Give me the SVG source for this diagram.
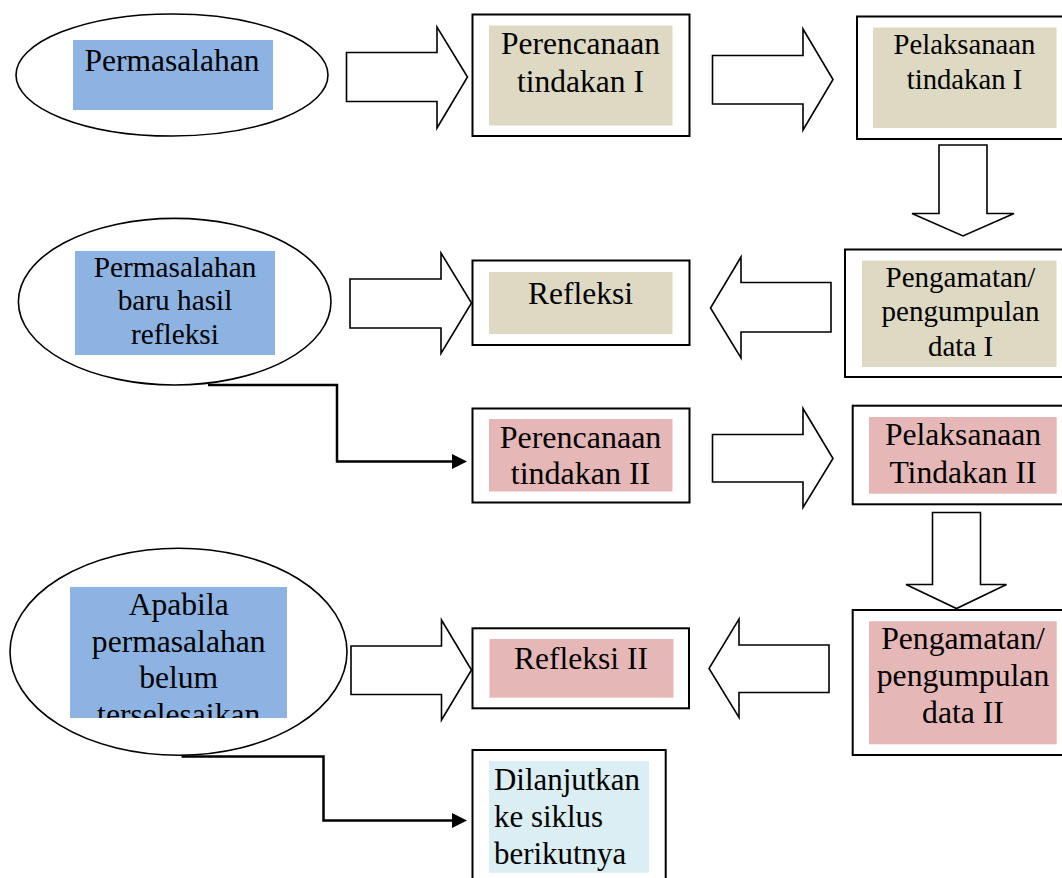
<svg xmlns="http://www.w3.org/2000/svg" width="1062" height="878" viewBox="0 0 1062 878">
<defs>
<style>
.bg{fill:#ffffff}
.box{fill:#ffffff;stroke:#000000;stroke-width:2}
.ell{fill:#ffffff;stroke:#000000;stroke-width:1.6}
.barrow{fill:#ffffff;stroke:#000000;stroke-width:1.6;stroke-linejoin:miter}
.blue{fill:#8DB3E2}
.tan{fill:#DDD9C3}
.pink{fill:#E5B8B7}
.cyan{fill:#DAEEF3}
.t{font-family:"Liberation Serif","Times New Roman",serif;fill:#000000}
.c{text-anchor:middle}
.conn{fill:none;stroke:#000000;stroke-width:2.5}
</style>
<marker id="ah" viewBox="0 0 15 15" refX="0" refY="7.5" markerWidth="15" markerHeight="15" markerUnits="userSpaceOnUse" orient="auto">
<path d="M0,0 L15,7.5 L0,15 z" fill="#000000"/>
</marker>
<clipPath id="clip3"><rect x="70" y="587" width="217" height="131"/></clipPath>
</defs>
<rect class="bg" x="0" y="0" width="1062" height="878"/>

<g id="connectors">
<polygon id="a1" class="barrow" points="346.5,52.5 437,52.5 437,27 467.5,77 437,128 437,101.5 346.5,101.5"/>
<polygon id="a2" class="barrow" points="712.5,55.5 803,55.5 803,29 833,79.5 803,130 803,104 712.5,104"/>
<polygon id="a3" class="barrow" points="939,145 987,145 987,213.5 1014,213.5 963,236 912,213.5 939,213.5"/>
<polygon id="a4" class="barrow" points="831,282.5 741,282.5 741,257 710.5,308 741,358 741,332 831,332"/>
<polygon id="a5" class="barrow" points="350,279 441,279 441,253 471.5,303 441,353.5 441,328 350,328"/>
<polygon id="a6" class="barrow" points="712.5,434.5 803,434.5 803,408.5 833,458.5 803,507.5 803,482 712.5,482"/>
<polygon id="a7" class="barrow" points="932.5,512.5 980.5,512.5 980.5,584.5 1006.5,584.5 956.5,608.5 906,584.5 932.5,584.5"/>
<polygon id="a8" class="barrow" points="829,645 739,645 739,619 709,668.5 739,717.5 739,692.5 829,692.5"/>
<polygon id="a9" class="barrow" points="351,646 441.5,646 441.5,620 471.5,670 441.5,720 441.5,694.5 351,694.5"/>
<path id="c1" class="conn" d="M208,385 H337 V461.5 H452" marker-end="url(#ah)"/>
<path id="c2" class="conn" d="M181.5,756.5 H323.5 V820.5 H452" marker-end="url(#ah)"/>
</g>

<g id="n1">
<ellipse class="ell" cx="172" cy="75" rx="156" ry="61"/>
<rect class="blue" x="73" y="40" width="200" height="70"/>
<text class="t c" x="172" y="71" font-size="31.5">Permasalahan</text>
</g>

<g id="n2">
<rect class="box" x="472.5" y="14.5" width="217" height="121.5"/>
<rect class="tan" x="489" y="25.5" width="183.5" height="100"/>
<text class="t c" x="580.5" y="54" font-size="31.5">Perencanaan</text>
<text class="t c" x="580.5" y="92" font-size="31.5">tindakan I</text>
</g>

<g id="n3">
<rect class="box" x="857" y="16.5" width="215" height="122.5"/>
<rect class="tan" x="873" y="27.5" width="183.5" height="100.5"/>
<text class="t c" x="964.5" y="54" font-size="28.7">Pelaksanaan</text>
<text class="t c" x="964.5" y="89" font-size="28.7">tindakan I</text>
</g>

<g id="n4">
<rect class="box" x="845" y="249.5" width="225" height="127.5"/>
<rect class="tan" x="862" y="260.5" width="194.5" height="106.5"/>
<text class="t c" x="960.5" y="286.5" font-size="29">Pengamatan/</text>
<text class="t c" x="960.5" y="320.5" font-size="29">pengumpulan</text>
<text class="t c" x="960.5" y="356" font-size="29">data I</text>
</g>

<g id="n5">
<rect class="box" x="472.5" y="260.5" width="217" height="84.5"/>
<rect class="tan" x="489" y="272" width="183.5" height="62"/>
<text class="t c" x="580.5" y="303.5" font-size="31.5">Refleksi</text>
</g>

<g id="n6">
<ellipse class="ell" cx="174.7" cy="301.7" rx="156.3" ry="83.3"/>
<rect class="blue" x="75" y="251" width="200" height="104"/>
<text class="t c" x="175" y="276.5" font-size="29.3">Permasalahan</text>
<text class="t c" x="175" y="310" font-size="29.3">baru hasil</text>
<text class="t c" x="175" y="344" font-size="29.3">refleksi</text>
</g>

<g id="n7">
<rect class="box" x="472.5" y="408.5" width="217" height="94"/>
<rect class="pink" x="489" y="419" width="183.5" height="72.5"/>
<text class="t c" x="580.5" y="448.3" font-size="32">Perencanaan</text>
<text class="t c" x="580.5" y="484.3" font-size="32">tindakan II</text>
</g>

<g id="n8">
<rect class="box" x="852.7" y="405.7" width="220" height="98.6"/>
<rect class="pink" x="869" y="417" width="187.7" height="76.7"/>
<text class="t c" x="963" y="445" font-size="31.6">Pelaksanaan</text>
<text class="t c" x="963" y="483.3" font-size="31.6">Tindakan II</text>
</g>

<g id="n9">
<rect class="box" x="852.7" y="610" width="220" height="145"/>
<rect class="pink" x="869" y="621.3" width="187.7" height="123"/>
<text class="t c" x="963" y="649.3" font-size="31.7">Pengamatan/</text>
<text class="t c" x="963" y="686" font-size="31.7">pengumpulan</text>
<text class="t c" x="963" y="723.3" font-size="31.7">data II</text>
</g>

<g id="n10">
<rect class="box" x="472.5" y="628.3" width="216.5" height="80"/>
<rect class="pink" x="489.5" y="639" width="184" height="58.7"/>
<text class="t c" x="581" y="669.3" font-size="31.5">Refleksi II</text>
</g>

<g id="n11">
<ellipse class="ell" cx="178.5" cy="651.7" rx="168.5" ry="103.5"/>
<rect class="blue" x="70" y="587" width="217" height="131"/>
<g clip-path="url(#clip3)">
<text class="t c" x="178.7" y="615" font-size="31.6">Apabila</text>
<text class="t c" x="178.7" y="651.7" font-size="31.6">permasalahan</text>
<text class="t c" x="178.7" y="688.3" font-size="31.6">belum</text>
<text class="t c" x="178.7" y="724.5" font-size="31.6">terselesaikan</text>
</g>
</g>

<g id="n12">
<rect class="box" x="472.5" y="750" width="193.2" height="140"/>
<rect class="cyan" x="489" y="761" width="160" height="111.7"/>
<text class="t" x="494" y="790" font-size="30.9">Dilanjutkan</text>
<text class="t" x="494" y="827" font-size="30.9">ke siklus</text>
<text class="t" x="494" y="864" font-size="30.9">berikutnya</text>
</g>
</svg>
